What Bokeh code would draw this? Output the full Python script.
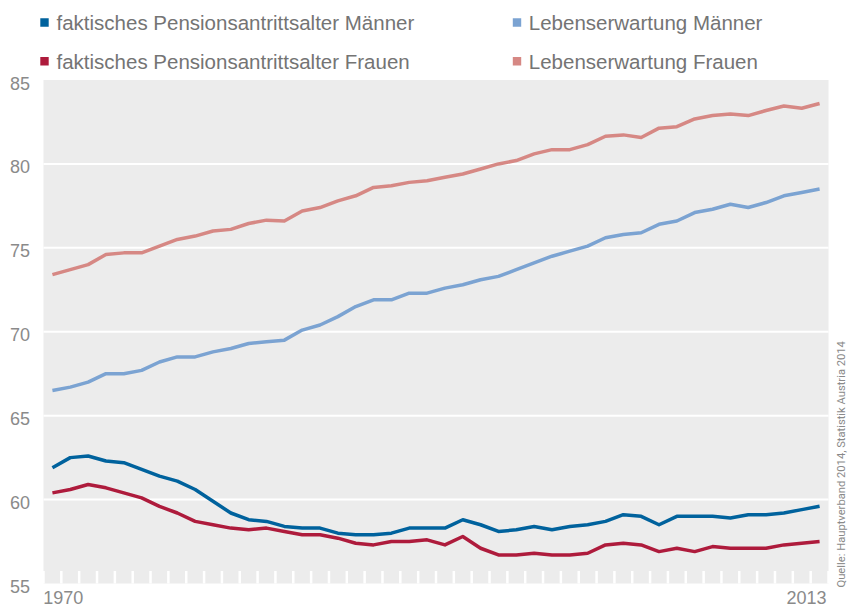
import math
from bokeh.plotting import figure
from bokeh.models import Range1d
from bokeh.core.properties import value
from bokeh.embed import file_html
from bokeh.resources import INLINE

# ---------------- data ----------------
years = list(range(1970, 2014))

pension_m = [61.9, 62.5, 62.6, 62.3, 62.2, 61.8, 61.4, 61.1, 60.6, 59.9,
             59.2, 58.8, 58.7, 58.4, 58.3, 58.3, 58.0, 57.9, 57.9, 58.0,
             58.3, 58.3, 58.3, 58.8, 58.5, 58.1, 58.2, 58.4, 58.2, 58.4,
             58.5, 58.7, 59.1, 59.0, 58.5, 59.0, 59.0, 59.0, 58.9, 59.1,
             59.1, 59.2, 59.4, 59.6]

pension_f = [60.4, 60.6, 60.9, 60.7, 60.4, 60.1, 59.6, 59.2, 58.7, 58.5,
             58.3, 58.2, 58.3, 58.1, 57.9, 57.9, 57.7, 57.4, 57.3, 57.5,
             57.5, 57.6, 57.3, 57.8, 57.1, 56.7, 56.7, 56.8, 56.7, 56.7,
             56.8, 57.3, 57.4, 57.3, 56.9, 57.1, 56.9, 57.2, 57.1, 57.1,
             57.1, 57.3, 57.4, 57.5]

life_m = [66.5, 66.7, 67.0, 67.5, 67.5, 67.7, 68.2, 68.5, 68.5, 68.8,
          69.0, 69.3, 69.4, 69.5, 70.1, 70.4, 70.9, 71.5, 71.9, 71.9,
          72.3, 72.3, 72.6, 72.8, 73.1, 73.3, 73.7, 74.1, 74.5, 74.8,
          75.1, 75.6, 75.8, 75.9, 76.4, 76.6, 77.1, 77.3, 77.6, 77.4,
          77.7, 78.1, 78.3, 78.5]

life_f = [73.4, 73.7, 74.0, 74.6, 74.7, 74.7, 75.1, 75.5, 75.7, 76.0,
          76.1, 76.45, 76.65, 76.6, 77.2, 77.4, 77.8, 78.1, 78.6, 78.7,
          78.9, 79.0, 79.2, 79.4, 79.7, 80.0, 80.2, 80.6, 80.85, 80.85,
          81.15, 81.65, 81.73, 81.57, 82.13, 82.22, 82.68, 82.88, 82.98, 82.88,
          83.18, 83.45, 83.32, 83.6]

series_names = ["faktisches Pensionsantrittsalter Männer",
                "Lebenserwartung Männer",
                "faktisches Pensionsantrittsalter Frauen",
                "Lebenserwartung Frauen"]
series_values = [pension_m, life_m, pension_f, life_f]
series_colors = ["#00629d", "#7ba3d2", "#ae1b3c", "#d68884"]

y_ticks = [55, 60, 65, 70, 75, 80, 85]
y_tick_labels = ["55", "60", "65", "70", "75", "80", "85"]
x_labels = ["1970", "2013"]
source_text = "Quelle: Hauptverband 2014, Statistik Austria 2014"

# ---------------- layout (page pixels) ----------------
W, H = 848, 607
GX0, GX1 = 43.0, 828.0      # plot area left / right
GY0, GY1 = 79.5, 583.0      # plot area top / bottom
x_lo, x_hi = years[0] - 0.5, years[-1] + 0.5
y_lo, y_hi = y_ticks[0], y_ticks[-1]
kx = (x_hi - x_lo) / (GX1 - GX0)
ky = (y_hi - y_lo) / (GY1 - GY0)


def X(px):
    return x_lo + (px - GX0) * kx


def Y(py):
    return y_lo + (GY1 - py) * ky


FONT = "Liberation Sans"
GREY = "#8a8a8a"

p = figure(width=W, height=H, output_backend="svg", toolbar_location=None,
           title=None,
           x_range=Range1d(X(0), X(W)), y_range=Range1d(Y(H), Y(0)),
           min_border_left=0, min_border_right=0,
           min_border_top=0, min_border_bottom=0)
p.background_fill_color = "white"
p.border_fill_color = "white"
p.outline_line_color = None
p.grid.visible = False
p.axis.visible = False

# plot background
p.quad(left=[x_lo], right=[x_hi], bottom=[y_lo], top=[y_hi],
       fill_color="#ececec", line_color=None)

# horizontal grid lines
inner = y_ticks[1:-1]
p.segment(x0=[x_lo] * len(inner), x1=[x_hi] * len(inner), y0=inner, y1=inner,
          line_color="white", line_width=2)

# year separator ticks (white, inside bottom of plot)
bounds = [yr - 0.5 for yr in years] + [x_hi]
tick_len = 12.5 * ky
p.segment(x0=bounds, x1=bounds, y0=[y_lo] * len(bounds),
          y1=[y_lo + tick_len] * len(bounds), line_color="white", line_width=2.5)

# series
for vals, color in zip(series_values, series_colors):
    p.line(years, vals, line_color=color, line_width=3.5, line_join="round")

# y tick labels
p.text(x=[X(29.5)] * len(y_ticks), y=y_ticks, text=y_tick_labels, y_offset=3,
       text_font=value(FONT), text_font_size="18px", text_color=GREY,
       text_align="right", text_baseline="middle")

# ---------------- legend ----------------
col_sq = [44.0, 516.5]
col_tx = [56.0, 528.3]
row_c = [22.0, 60.8]
lx, ly, tx, ty = [], [], [], []
for i, name in enumerate(series_names):
    r, c = i // 2, i % 2
    lx.append(X(col_sq[c]))
    ly.append(Y(row_c[r]))
    tx.append(X(col_tx[c]))
    ty.append(Y(row_c[r]))
p.scatter(x=lx, y=ly, marker="square", size=8.4,
          fill_color=series_colors, line_color=None)
p.text(x=tx, y=ty, text=series_names, text_font=value(FONT), text_font_size="20.5px",
       text_color="#747474", text_align="left", text_baseline="middle")

# ---------------- x labels ----------------
p.text(x=[X(42.7)], y=[Y(596.5)], text=[x_labels[0]], text_font=value(FONT),
       text_font_size="18px", text_color=GREY, text_align="left",
       text_baseline="middle")
p.text(x=[X(826.0)], y=[Y(596.5)], text=[x_labels[1]], text_font=value(FONT),
       text_font_size="18px", text_color=GREY, text_align="right",
       text_baseline="middle")

# ---------------- source ----------------
p.text(x=[X(840.5)], y=[Y(587.0)], text=[source_text], angle=math.pi / 2,
       text_font=value("Roboto"), text_font_size="11.2px",
       text_color=GREY, text_align="left", text_baseline="middle")

open("out.html", "w").write(file_html(p, INLINE))
